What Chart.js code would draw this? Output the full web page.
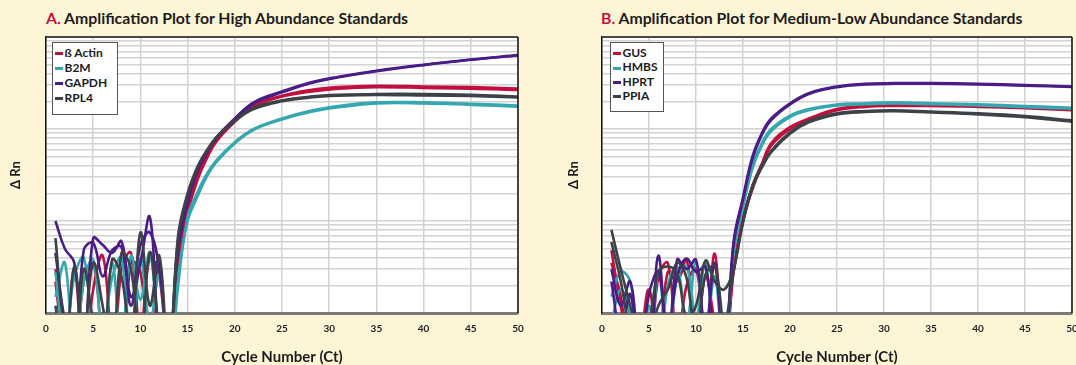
<!DOCTYPE html>
<html>
<head>
<meta charset="utf-8">
<script src="https://cdn.jsdelivr.net/npm/chart.js@4.4.1/dist/chart.umd.min.js"></script>
<style>
  html, body { margin: 0; padding: 0; }
  body { width: 1076px; height: 365px; background: #fdf5d6; position: relative; overflow: hidden; font-family: Lato, "Open Sans", sans-serif; }
  .panel { position: absolute; top: 0; width: 538px; height: 365px; }
  .title { position: absolute; top: 8px; font-size: 15.8px; font-weight: 700; color: #1c1c1c; white-space: nowrap; }
  .title span { color: #c4123f; }
  .legend { position: absolute; top: 42px; background: #fff; border: 1.5px solid #555; box-sizing: border-box; padding: 3px 0 0 1.5px; }
  .legend div { font-size: 12px; font-weight: 700; color: #1c1c1c; line-height: 14px; white-space: nowrap; }
  .legend i { display: inline-block; width: 8px; height: 3px; margin-right: 2px; vertical-align: middle; }
</style>
</head>
<body>

<div class="title" style="left:46px"><span>A.</span> Amplification Plot for High Abundance Standards</div>
<div class="title" style="left:601px"><span>B.</span> Amplification Plot for Medium-Low Abundance Standards</div>

<div class="panel" style="left:0"><canvas id="chartA" width="538" height="365"></canvas></div>
<div class="panel" style="left:538px"><canvas id="chartB" width="538" height="365"></canvas></div>

<div class="legend" id="legendA" style="left:52px;width:66px;height:73px"></div>
<div class="legend" id="legendB" style="left:610px;width:54px;height:70px"></div>

<script>
// cycle numbers where values were read (every cycle in the noise/rise, sparser on the plateau)
const cycles = [1,2,3,4,5,6,7,8,9,10,11,12,13,14,15,16,17,18,20,22,25,28,31,35,40,45,50];
const xTicks = [0,5,10,15,20,25,30,35,40,45,50];
const decades = [0.001, 0.01, 0.1];

const colors = { red: '#c0103f', teal: '#35a7af', purple: '#4a1d86', dark: '#3c4247' };

// A. high abundance standards (two replicates each)
const actinRep1 = [0.003,0.0008,0.0003,0.0022,0.0035,0.0005,0.0002,0.003,0.0045,0.0006,0.004,0.0025,0.0003, 0.004,0.014,0.03,0.05,0.075,0.125,0.18,0.23,0.265,0.285,0.295,0.29,0.285,0.275];
const actinRep2 = [0.0022,0.0004,0.003,0.0003,0.0018,0.0042,0.0005,0.0002,0.0036,0.0028,0.0004,0.0038,0.0002, 0.003,0.012,0.027,0.047,0.072,0.12,0.175,0.225,0.255,0.275,0.285,0.28,0.275,0.265];
const b2mRep1 = [0.0028,0.0005,0.0025,0.004,0.0006,0.0003,0.0035,0.0005,0.0042,0.0014,0.0045,0.0005,0.0002, 0.002,0.011,0.02,0.032,0.045,0.072,0.1,0.13,0.158,0.178,0.195,0.195,0.188,0.18];
const b2mRep2 = [0.0015,0.0035,0.0003,0.0022,0.0038,0.0006,0.0024,0.004,0.0004,0.0039,0.0008,0.0026,0.0003, 0.0025,0.01,0.018,0.03,0.043,0.07,0.098,0.127,0.153,0.172,0.19,0.19,0.183,0.175];
const gapdhRep1 = [0.01,0.005,0.0035,0.0004,0.0065,0.0055,0.0045,0.006,0.0015,0.0035,0.011,0.0006,0.0004, 0.006,0.018,0.036,0.056,0.08,0.13,0.195,0.255,0.32,0.37,0.43,0.5,0.57,0.635];
const gapdhRep2 = [0.0045,0.0008,0.0003,0.0048,0.0058,0.0025,0.0048,0.0052,0.0012,0.0055,0.0075,0.003,0.0004, 0.005,0.016,0.034,0.054,0.078,0.127,0.19,0.25,0.315,0.365,0.425,0.495,0.565,0.63];
const rpl4Rep1 = [0.0065,0.0006,0.0003,0.003,0.0008,0.0003,0.0038,0.0025,0.0005,0.0075,0.0012,0.0042,0.0003, 0.007,0.02,0.038,0.058,0.08,0.125,0.17,0.205,0.225,0.235,0.24,0.24,0.235,0.225];
const rpl4Rep2 = [0.0012,0.0003,0.0032,0.0006,0.0035,0.0012,0.0003,0.0045,0.003,0.0004,0.0046,0.0006,0.0002, 0.0065,0.019,0.037,0.057,0.079,0.122,0.165,0.2,0.22,0.23,0.235,0.232,0.228,0.22];

// B. medium-low abundance standards
const gusRep1 = [0.0048,0.0012,0.0004,0.0008,0.0003,0.0025,0.0035,0.0005,0.002,0.003,0.0006,0.0044,0.0003, 0.003,0.011,0.024,0.042,0.07,0.105,0.13,0.165,0.178,0.182,0.182,0.178,0.172,0.165];
const gusRep2 = [0.0035,0.0015,0.0003,0.0005,0.0018,0.0004,0.0028,0.0022,0.0038,0.0005,0.0025,0.0008,0.0003, 0.0028,0.01,0.022,0.04,0.066,0.1,0.127,0.16,0.174,0.178,0.178,0.174,0.168,0.16];
const hmbsRep1 = [0.0015,0.0028,0.0022,0.0004,0.0003,0.0028,0.0004,0.0025,0.0032,0.0009,0.0035,0.0004,0.0002, 0.005,0.015,0.04,0.07,0.1,0.14,0.165,0.185,0.19,0.195,0.19,0.185,0.178,0.17];
const hmbsRep2 = [0.0008,0.0018,0.0009,0.0002,0.0012,0.0003,0.002,0.0032,0.0008,0.0036,0.0006,0.0025,0.0003, 0.0045,0.014,0.037,0.066,0.095,0.135,0.16,0.18,0.186,0.19,0.186,0.18,0.173,0.166];
const hprtRep1 = [0.003,0.0012,0.0022,0.0004,0.0003,0.0042,0.0004,0.0038,0.003,0.0038,0.0006,0.0035,0.0003, 0.006,0.018,0.05,0.09,0.13,0.19,0.245,0.29,0.31,0.315,0.315,0.31,0.3,0.29];
const hprtRep2 = [0.0022,0.0006,0.0016,0.0003,0.0016,0.0028,0.0006,0.0025,0.0039,0.0028,0.0032,0.0005,0.0003, 0.0055,0.017,0.047,0.086,0.125,0.185,0.24,0.285,0.305,0.31,0.31,0.305,0.296,0.286];
const ppiaRep1 = [0.008,0.003,0.0012,0.0005,0.0008,0.0028,0.0032,0.0027,0.0009,0.0012,0.0037,0.0022,0.0018, 0.003,0.01,0.024,0.04,0.058,0.092,0.122,0.148,0.157,0.16,0.155,0.148,0.138,0.124];
const ppiaRep2 = [0.0059,0.0022,0.0006,0.0003,0.0005,0.0012,0.0018,0.0035,0.0024,0.0005,0.0026,0.0032,0.0008, 0.0028,0.0095,0.023,0.038,0.056,0.089,0.118,0.144,0.153,0.156,0.151,0.144,0.134,0.12];

const seriesA = [
  { label: 'ß Actin', color: colors.red, reps: [actinRep1, actinRep2] },
  { label: 'B2M', color: colors.teal, reps: [b2mRep1, b2mRep2] },
  { label: 'GAPDH', color: colors.purple, reps: [gapdhRep1, gapdhRep2] },
  { label: 'RPL4', color: colors.dark, reps: [rpl4Rep1, rpl4Rep2] }
];
const seriesB = [
  { label: 'GUS', color: colors.red, reps: [gusRep1, gusRep2] },
  { label: 'HMBS', color: colors.teal, reps: [hmbsRep1, hmbsRep2] },
  { label: 'HPRT', color: colors.purple, reps: [hprtRep1, hprtRep2] },
  { label: 'PPIA', color: colors.dark, reps: [ppiaRep1, ppiaRep2] }
];

// log grid: 1..9 in every decade
const yTicks = [];
decades.forEach(d => { for (let k = 1; k < 10; k++) yTicks.push(+(d * k).toPrecision(3)); });
yTicks.push(1);

const frame = {
  id: 'frame',
  beforeDraw(chart) {
    const { ctx, chartArea: a } = chart;
    ctx.save();
    ctx.fillStyle = '#fff';
    ctx.fillRect(a.left, a.top, a.right - a.left, a.bottom - a.top);
    ctx.restore();
  },
  afterDraw(chart) {
    const { ctx, chartArea: a } = chart;
    ctx.save();
    ctx.strokeStyle = '#4a4a4a';
    ctx.lineWidth = 2;
    ctx.beginPath();
    ctx.moveTo(a.left, a.top); ctx.lineTo(a.right, a.top);
    ctx.stroke();
    ctx.strokeStyle = '#111';
    ctx.lineWidth = 1.5;
    ctx.beginPath();
    ctx.moveTo(a.right, a.top); ctx.lineTo(a.right, a.bottom);
    ctx.stroke();
    ctx.restore();
  }
};

function makeDatasets(series) {
  const out = [];
  // dark drawn on top: chart.js paints dataset 0 last
  series.slice().reverse().forEach(s => {
    s.reps.forEach(vals => {
      out.push({
        label: s.label,
        data: cycles.map((c, i) => ({ x: c, y: vals[i] })),
        borderColor: s.color,
        borderWidth: 2.6,
        pointRadius: 0,
        tension: 0.4,
        fill: false
      });
    });
  });
  return out;
}

function makeChart(id, series, pad, yWidth) {
  new Chart(document.getElementById(id), {
    type: 'line',
    data: { datasets: makeDatasets(series) },
    options: {
      responsive: false,
      animation: false,
      layout: { padding: pad },
      plugins: { legend: { display: false }, tooltip: { enabled: false } },
      scales: {
        x: {
          type: 'linear',
          min: 0, max: 50,
          afterBuildTicks: s => { s.ticks = xTicks.map(v => ({ value: v })); },
          afterFit: s => { s.height = 52; s.paddingLeft = 0; s.paddingRight = 0; },
          grid: { color: '#d2d2d2', lineWidth: 1.5, drawTicks: false },
          border: { color: '#7a7a7a', width: 3 },
          ticks: { padding: 10, color: '#222', font: { family: 'Lato', size: 10, weight: 'bold' }, maxRotation: 0, autoSkip: false },
          title: { display: true, text: 'Cycle Number (Ct)', color: '#1c1c1c', font: { family: 'Lato', size: 15, weight: 'bold', lineHeight: 1 }, padding: { top: 0, bottom: 0.5 } }
        },
        y: {
          type: 'logarithmic',
          min: 0.001, max: 1,
          afterBuildTicks: s => { s.ticks = yTicks.map(v => ({ value: v })); },
          afterFit: s => { s.width = yWidth; },
          grid: { color: '#d2d2d2', lineWidth: 1.5, drawTicks: false },
          border: { color: '#111', width: 1.5 },
          ticks: { display: false },
          title: { display: true, text: '\u0394 Rn', color: '#1c1c1c', font: { family: 'Lato', size: 13, weight: 'bold' }, padding: { top: 4, bottom: 0 } }
        }
      }
    },
    plugins: [frame]
  });
}

makeChart('chartA', seriesA, { top: 37, left: 4, right: 20, bottom: 0 }, 42);
makeChart('chartB', seriesB, { top: 37, left: 24, right: 4, bottom: 0 }, 40);

function makeLegend(id, series, rowH) {
  const box = document.getElementById(id);
  series.forEach(s => {
    const row = document.createElement('div');
    row.style.height = rowH + 'px';
    const sw = document.createElement('i');
    sw.style.background = s.color;
    row.appendChild(sw);
    row.appendChild(document.createTextNode(s.label));
    box.appendChild(row);
  });
}
makeLegend('legendA', seriesA, 15);
makeLegend('legendB', seriesB, 14.3);
</script>
</body>
</html>
